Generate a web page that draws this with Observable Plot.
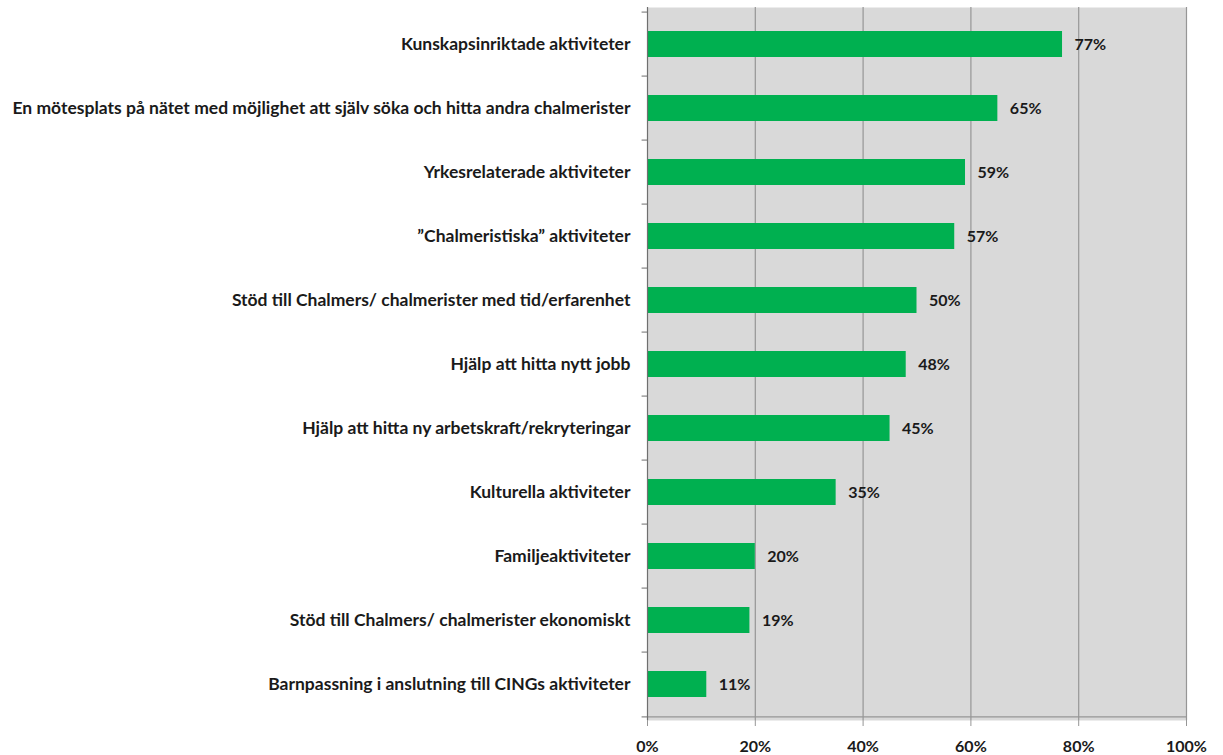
<!DOCTYPE html>
<html>
<head>
<meta charset="utf-8">
<script src="https://cdn.jsdelivr.net/npm/d3@7"></script>
<script src="https://cdn.jsdelivr.net/npm/@observablehq/plot@0.6"></script>
<style>
  html, body { margin: 0; padding: 0; background: #fff; }
  #chart svg { display: block; font-family: Lato, "Open Sans", sans-serif; }
</style>
</head>
<body>
<div id="chart"></div>
<script>
const categories = [
  "Kunskapsinriktade aktiviteter",
  "En mötesplats på nätet med möjlighet att själv söka och hitta andra chalmerister",
  "Yrkesrelaterade aktiviteter",
  "\u201DChalmeristiska\u201D aktiviteter",
  "Stöd till Chalmers/ chalmerister med tid/erfarenhet",
  "Hjälp att hitta nytt jobb",
  "Hjälp att hitta ny arbetskraft/rekryteringar",
  "Kulturella aktiviteter",
  "Familjeaktiviteter",
  "Stöd till Chalmers/ chalmerister ekonomiskt",
  "Barnpassning i anslutning till CINGs aktiviteter"
];
const values = [77, 65, 59, 57, 50, 48, 45, 35, 20, 19, 11];
const xTicks = [0, 20, 40, 60, 80, 100];

const data = categories.map((c, i) => ({category: c, value: values[i]}));

const W = 1223, H = 755;
const mt = 7, mb = 35, ml = 647, mr = 37;
const step = (H - mt - mb) / categories.length;

const chart = Plot.plot({
  width: W,
  height: H,
  marginTop: mt,
  marginBottom: mb,
  marginLeft: ml,
  marginRight: mr,
  style: {fontSize: "16px", fontWeight: "bold", color: "#000", background: "#fff"},
  x: {domain: [0, 100]},
  y: {domain: categories, paddingInner: 0.6, paddingOuter: 0.3},
  marks: [
    Plot.frame({fill: "#d9d9d9", stroke: null}),
    Plot.ruleX(xTicks.filter(d => d > 0), {stroke: "#969696", strokeWidth: 1.2}),
    Plot.barX(data, {y: "category", x: "value", fill: "#00b050"}),
    Plot.text(data, {
      y: "category", x: "value", text: d => d.value + "%",
      textAnchor: "start", dx: 12, fontWeight: "bold", fill: "#1a1a1a", fontSize: 16
    }),
    // bottom axis line
    Plot.link([categories[categories.length - 1]], {
      x1: 0, x2: 100, y1: d => d, y2: d => d, dy: step / 2, stroke: "#969696", strokeWidth: 1.2
    }),
    // left category boundary ticks
    Plot.link(categories, {
      x1: -1.1, x2: 0, y1: d => d, y2: d => d, dy: -step / 2, stroke: "#6f6f6f"
    }),
    Plot.link([categories[categories.length - 1]], {
      x1: -1.1, x2: 0, y1: d => d, y2: d => d, dy: step / 2, stroke: "#6f6f6f"
    }),
    Plot.ruleX([0], {stroke: "#6f6f6f", strokeWidth: 1.2}),
    Plot.axisY({tickSize: 0, tickPadding: 17, label: null, fontWeight: "bold", fill: "#1a1a1a", fontSize: 17.5}),
    Plot.axisX(xTicks, {
      tickSize: 6, tickPadding: 14, label: null, stroke: "#969696",
      tickFormat: d => d + "%", fontWeight: "bold", fill: "#1a1a1a", fontSize: 16
    })
  ]
});
document.getElementById("chart").append(chart);
</script>
</body>
</html>
